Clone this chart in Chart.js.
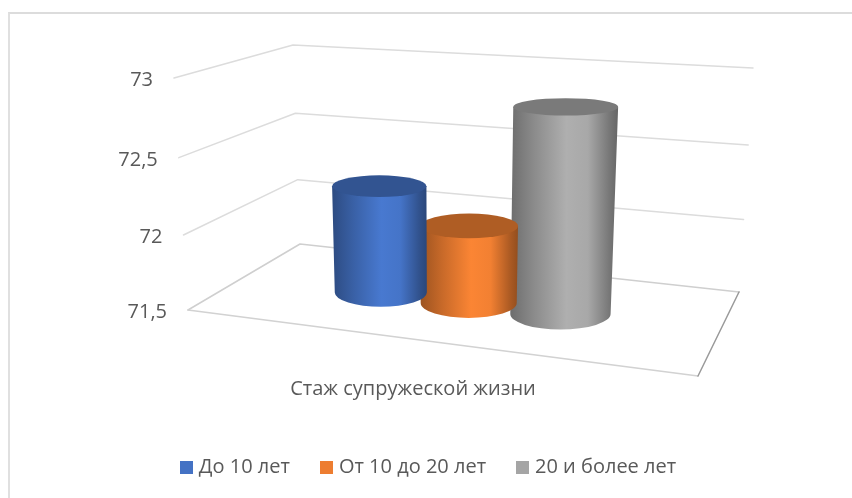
<!DOCTYPE html>
<html><head><meta charset="utf-8">
<style>
html,body{margin:0;padding:0;background:#fff}
#frame{position:absolute;left:8px;top:12px;width:860px;height:500px;border-left:2px solid #E0E0E0;border-top:2px solid #DCDCDC}
#wrap{position:absolute;left:0;top:0;width:852px;height:498px;overflow:hidden}
canvas{position:absolute;left:0;top:0}
</style>
<script src="https://cdn.jsdelivr.net/npm/chart.js@4"></script>
</head><body>
<div id="wrap"><div id="frame"></div><canvas id="c" width="852" height="498"></canvas></div>
<script>
const categories = ['Стаж супружеской жизни'];
const seriesNames = ['До 10 лет', 'От 10 до 20 лет', '20 и более лет'];
const seriesColors = ['#4472C4', '#ED7D31', '#A5A5A5'];
const v1 = [72.23];
const v2 = [72.02];
const v3 = [72.83];
const tickMin = 71.5, tickMax = 73, tickStep = 0.5;

const FONT = '"Open Sans"';
const TEXT = '#595959';
// 3-D view: where the chart's box lands on the page
const floorQ = [[188,310],[698,376],[739,292],[300,244]];
const ceilQ  = [[174,78],[712,110],[753,68],[293,45]];
function homography(q){
  const [[x0,y0],[x1,y1],[x2,y2],[x3,y3]] = q;
  const dx1=x1-x2,dx2=x3-x2,sx=x0-x1+x2-x3,dy1=y1-y2,dy2=y3-y2,sy=y0-y1+y2-y3;
  const den=dx1*dy2-dx2*dy1, g=(sx*dy2-dx2*sy)/den, h=(dx1*sy-sx*dy1)/den;
  const a=x1-x0+g*x1,b=x3-x0+h*x3,d=y1-y0+g*y1,e=y3-y0+h*y3;
  return (u,w)=>{const k=g*u+h*w+1;return [(a*u+b*w+x0)/k,(d*u+e*w+y0)/k];};
}
const hf=homography(floorQ), hc=homography(ceilQ);
function project(u,w,v){
  const f=hf(u,w),c=hc(u,w),p=.955*v+.045*v*v;
  return [f[0]+(c[0]-f[0])*p,f[1]+(c[1]-f[1])*p];
}

function shade(hex,k){
  const n=parseInt(hex.slice(1),16);
  const c=[n>>16,(n>>8)&255,n&255].map(x=>Math.min(255,Math.round(x*k)));
  return `rgb(${c[0]},${c[1]},${c[2]})`;
}
const MID=0.47, DEPTH=0.2;
function level(u,du,v){
  const c=project(u,MID,v);
  const rx=Math.abs(project(u+du,MID,v)[0]-project(u-du,MID,v)[0])/2;
  const ry=Math.abs(project(u,MID+DEPTH,v)[1]-project(u,MID-DEPTH,v)[1])/2;
  return {x:c[0],y:c[1],rx,ry};
}
function cylinder(ctx,area,el,color,yScale){
  const W=area.right-area.left,H=area.bottom-area.top;
  const u=(el.x-area.left)/W, du=el.width/2/W;
  const vTop=(area.bottom-el.y)/H, vBase=(area.bottom-yScale.getPixelForValue(yScale.min))/H;
  const t=level(u,du,vTop), b=level(u,du,vBase);
  const L=Math.min(t.x-t.rx,b.x-b.rx), R=Math.max(t.x+t.rx,b.x+b.rx);
  const g=ctx.createLinearGradient(L,0,R,0);
  g.addColorStop(0,shade(color,.66));
  g.addColorStop(.22,shade(color,.84));
  g.addColorStop(.52,shade(color,1.06));
  g.addColorStop(.72,shade(color,1.02));
  g.addColorStop(.92,shade(color,.72));
  g.addColorStop(1,shade(color,.62));
  ctx.save();
  ctx.beginPath();
  ctx.moveTo(t.x-t.rx,t.y);
  ctx.lineTo(b.x-b.rx,b.y);
  ctx.ellipse(b.x,b.y,b.rx,b.ry,0,Math.PI,0,true);
  ctx.lineTo(t.x+t.rx,t.y);
  ctx.closePath();
  ctx.fillStyle=g;ctx.fill();
  ctx.beginPath();
  ctx.ellipse(t.x,t.y,t.rx,t.ry,0,0,Math.PI*2);
  ctx.fillStyle=shade(color,.74);ctx.fill();
  ctx.restore();
}
const box3d={
  id:'box3d',
  beforeDatasetsDraw(chart){
    const ctx=chart.ctx,y=chart.scales.y,a=chart.chartArea,H=a.bottom-a.top;
    ctx.save();
    ctx.lineCap='round';ctx.lineJoin='round';
    y.ticks.forEach(t=>{
      const v=(a.bottom-y.getPixelForValue(t.value))/H;
      const p0=project(0,0,v),p1=project(0,1,v),p2=project(1,1,v);
      ctx.beginPath();ctx.moveTo(...p0);ctx.lineTo(...p1);ctx.lineTo(...p2);
      ctx.strokeStyle=t.value===tickMin?'#CFCFCF':'#DCDCDC';ctx.lineWidth=1.5;ctx.stroke();
      ctx.fillStyle=TEXT;ctx.font='20px '+FONT;ctx.textAlign='right';ctx.textBaseline='middle';
      ctx.fillText(t.label,p0[0]-21,p0[1]+2.5);
    });
    const f=[project(0,0,0),project(1,0,0),project(1,1,0)];
    ctx.beginPath();ctx.moveTo(...f[0]);ctx.lineTo(...f[1]);
    ctx.strokeStyle='#D2D2D2';ctx.lineWidth=1.6;ctx.stroke();
    ctx.beginPath();ctx.moveTo(...f[1]);ctx.lineTo(...f[2]);
    ctx.strokeStyle='#9A9A9A';ctx.lineWidth=1.5;ctx.stroke();
    ctx.fillStyle=TEXT;ctx.font='20px '+FONT;ctx.textAlign='center';ctx.textBaseline='middle';
    ctx.fillText(categories[0],413,389);
    ctx.restore();
  },
  beforeDatasetDraw(chart,args){
    const el=args.meta.data[0],ds=chart.data.datasets[args.index];
    cylinder(chart.ctx,chart.chartArea,el,ds.backgroundColor,chart.scales.y);
    return false;
  }
};
function swatch(color){
  const s=document.createElement('canvas');s.width=13;s.height=13;
  const x=s.getContext('2d');x.fillStyle=color;x.fillRect(0,0,13,13);
  return s;
}
new Chart(document.getElementById('c'),{
  type:'bar',
  data:{labels:categories,datasets:[
    {label:seriesNames[0],data:v1,backgroundColor:seriesColors[0]},
    {label:seriesNames[1],data:v2,backgroundColor:seriesColors[1]},
    {label:seriesNames[2],data:v3,backgroundColor:seriesColors[2]}
  ]},
  options:{
    responsive:false,animation:false,
    layout:{padding:{left:20,right:12,top:60,bottom:11}},
    datasets:{bar:{categoryPercentage:.57,barPercentage:1.07}},
    scales:{
      x:{display:false},
      y:{display:false,min:tickMin,max:tickMax,ticks:{stepSize:tickStep,callback:v=>String(v).replace('.',',')}}
    },
    plugins:{
      tooltip:{enabled:false},
      legend:{position:'bottom',labels:{
        usePointStyle:true,pointStyleWidth:5,padding:34,color:TEXT,font:{family:FONT,size:20},
        generateLabels(chart){
          return Chart.defaults.plugins.legend.labels.generateLabels(chart)
            .map((it,i)=>Object.assign(it,{pointStyle:swatch(seriesColors[i])}));
        }
      }}
    }
  },
  plugins:[box3d]
});
</script>
</body></html>
